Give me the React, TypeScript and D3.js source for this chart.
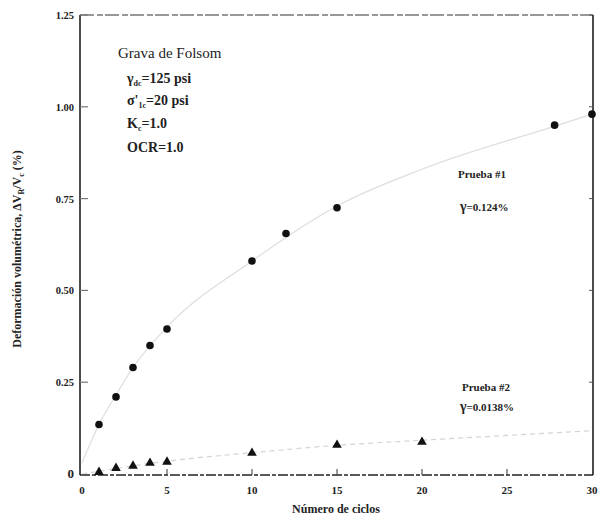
import React from 'react';
import * as d3 from 'd3';

// Prueba #1 (circles)
const cycles1 = [1, 2, 3, 4, 5, 10, 12, 15, 27.8, 30];
const strain1 = [0.135, 0.21, 0.29, 0.35, 0.395, 0.58, 0.655, 0.725, 0.95, 0.98];
// Prueba #2 (triangles)
const cycles2 = [1, 2, 3, 4, 5, 10, 15, 20];
const strain2 = [0.005, 0.016, 0.022, 0.03, 0.033, 0.057, 0.079, 0.087];
// faint trend curves
const trend1X = [0, 1, 2, 3, 5, 10, 15, 20, 28, 30];
const trend1Y = [0.03, 0.135, 0.215, 0.29, 0.4, 0.58, 0.73, 0.83, 0.95, 0.98];
const trend2X = [0, 5, 10, 15, 20, 25, 30];
const trend2Y = [0.0, 0.035, 0.058, 0.078, 0.092, 0.105, 0.118];

const yTicks = [0, 0.25, 0.5, 0.75, 1.0, 1.25];
const yTickLabels = ['0', '0.25', '0.50', '0.75', '1.00', '1.25'];
const xTicks = [0, 5, 10, 15, 20, 25, 30];

const W = 598;
const H = 520;
const font = '"Liberation Serif", "Times New Roman", serif';

export default function App() {
  const x = d3.scaleLinear().domain([0, 30]).range([82, 592]);
  const y = d3.scaleLinear().domain([0, 1.25]).range([474, 15]);
  const left = 80;
  const right = 593;
  const top = 15;
  const bottom = 475;

  const line = d3
    .line<[number, number]>()
    .x(d => x(d[0]))
    .y(d => y(d[1]))
    .curve(d3.curveMonotoneX);

  const t1 = trend1X.map((v, i) => [v, trend1Y[i]] as [number, number]);
  const t2 = trend2X.map((v, i) => [v, trend2Y[i]] as [number, number]);
  const tri = d3.symbol().type(d3.symbolTriangle).size(40)();

  return (
    <svg width={W} height={H} style={{ position: 'absolute', left: 0, top: 0, background: '#fff' }}>
      <rect width={W} height={H} fill="#fff" />
      {/* frame */}
      <line x1={left} x2={right} y1={top} y2={top} stroke="#777" strokeWidth={1.5} strokeDasharray="14 3 6 2" />
      <line x1={right} x2={right} y1={top} y2={bottom} stroke="#111" strokeWidth={1.5} />
      <line x1={left} x2={left} y1={top} y2={bottom} stroke="#111" strokeWidth={1.5} />
      <line x1={left} x2={right} y1={bottom} y2={bottom} stroke="#222" strokeWidth={1.5} strokeDasharray="10 2 4 2" />

      {/* y ticks */}
      {yTicks.map((t, i) => (
        <g key={'y' + i}>
          {i > 0 && <line x1={left} x2={left + 8} y1={y(t)} y2={y(t)} stroke="#777" strokeWidth={1.2} />}
          {i > 0 && <line x1={right - 4} x2={right} y1={y(t)} y2={y(t)} stroke="#555" strokeWidth={1} />}
          <text
            x={left - 6}
            y={y(t) + 4}
            textAnchor="end"
            fontFamily={font}
            fontWeight="bold"
            fontSize={i === 0 ? 13 : 10.5}
            fill="#222"
          >
            {yTickLabels[i]}
          </text>
        </g>
      ))}

      {/* x ticks */}
      {xTicks.map((t, i) => (
        <g key={'x' + i}>
          {i > 0 && i < xTicks.length - 1 && (
            <line x1={x(t)} x2={x(t)} y1={bottom} y2={bottom - 6} stroke="#555" strokeWidth={1.2} />
          )}
          <text x={x(t)} y={494} textAnchor="middle" fontFamily={font} fontWeight="bold" fontSize={11} fill="#222">
            {t}
          </text>
        </g>
      ))}

      {/* trend curves */}
      <path d={line(t1) || ''} fill="none" stroke="#aaa" strokeOpacity={0.4} strokeWidth={1.2} />
      <path d={line(t2) || ''} fill="none" stroke="#aaa" strokeOpacity={0.5} strokeWidth={1.2} strokeDasharray="5 4" />

      {/* points */}
      {cycles1.map((c, i) => (
        <circle key={'c' + i} cx={x(c)} cy={y(strain1[i])} r={3.8} fill="#111" />
      ))}
      {cycles2.map((c, i) => (
        <path key={'t' + i} d={tri || ''} transform={`translate(${x(c)},${y(strain2[i])})`} fill="#111" />
      ))}

      {/* axis titles */}
      <text x={336} y={513} textAnchor="middle" fontFamily={font} fontWeight="bold" fontSize={12} fill="#222">
        Número de ciclos
      </text>
      <text
        transform="translate(21,249) rotate(-90)"
        textAnchor="middle"
        fontFamily={font}
        fontWeight="bold"
        fontSize={12}
        fill="#222"
      >
        Deformación volumétrica, ΔV
        <tspan fontSize={8} dy={3}>R</tspan>
        <tspan dy={-3}>/V</tspan>
        <tspan fontSize={8} dy={3}>c</tspan>
        <tspan dy={-3}> (%)</tspan>
      </text>

      {/* test conditions */}
      <g fontFamily={font} fill="#222">
        <text x={118} y={58} fontSize={15}>Grava de Folsom</text>
        <text x={127} y={83} fontSize={14} fontWeight="bold">
          γ<tspan fontSize={8} dy={3}>dc</tspan>
          <tspan dy={-3}>=125 psi</tspan>
        </text>
        <text x={127} y={105} fontSize={14} fontWeight="bold">
          σ'<tspan fontSize={8} dy={3}>1c</tspan>
          <tspan dy={-3}>=20 psi</tspan>
        </text>
        <text x={127} y={128} fontSize={14} fontWeight="bold">
          K<tspan fontSize={8} dy={3}>c</tspan>
          <tspan dy={-3}>=1.0</tspan>
        </text>
        <text x={127} y={152} fontSize={14} fontWeight="bold">OCR=1.0</text>
      </g>

      <g fontFamily={font} fill="#222" fontWeight="bold">
        <text x={458} y={178} fontSize={11}>Prueba #1</text>
        <text x={460} y={211} fontSize={11}>
          <tspan fontSize={14}>γ</tspan>=0.124%
        </text>
        <text x={462} y={391} fontSize={11}>Prueba #2</text>
        <text x={460} y={411} fontSize={11}>
          <tspan fontSize={14}>γ</tspan>=0.0138%
        </text>
      </g>
    </svg>
  );
}
